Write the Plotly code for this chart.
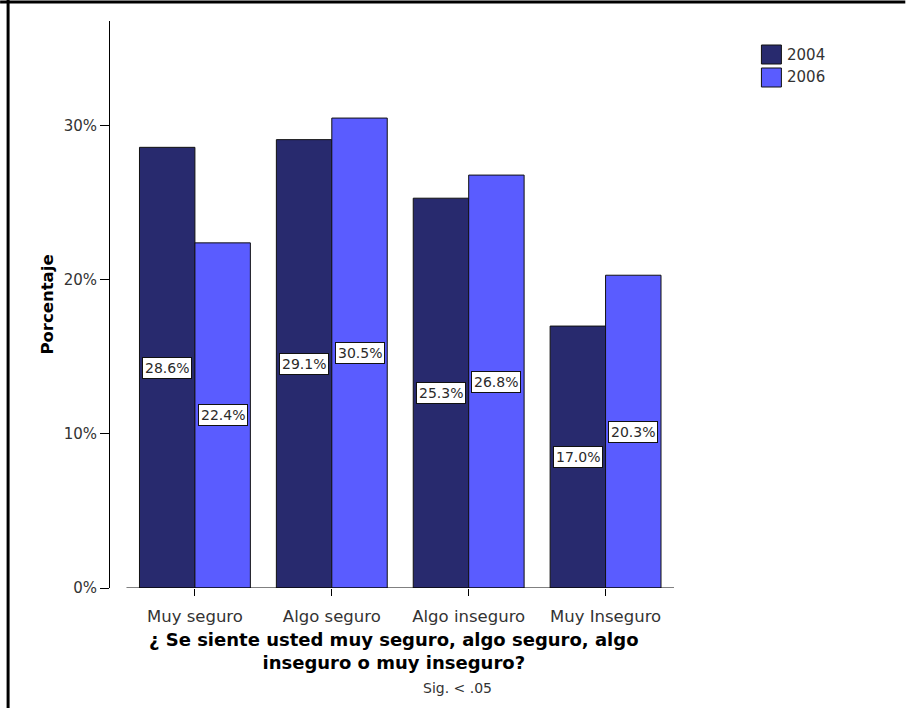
import plotly.graph_objects as go

categories = ["Muy seguro", "Algo seguro", "Algo inseguro", "Muy Inseguro"]
series_names = ["2004", "2006"]
values_2004 = [28.6, 29.1, 25.3, 17.0]
values_2006 = [22.4, 30.5, 26.8, 20.3]
y_tick_vals = [0, 10, 20, 30]
y_tick_text = ["0%", "10%", "20%", "30%"]
x_title_lines = ["¿ Se siente usted muy seguro, algo seguro, algo", "inseguro o muy inseguro?"]
note_text = "Sig. < .05"

colors = ["#282A6E", "#5A5CFF"]
series = [values_2004, values_2006]

# plot-area geometry in pixels
L, R, T, B = 110, 674.5, 21, 588
W, H = R - L, B - T
def px(x):
    return (x - L) / W
def py(y):
    return (B - y) / H

FONT = "DejaVu Sans"
TXT = "#333333"

fig = go.Figure()
for name, vals, col in zip(series_names, series, colors):
    fig.add_trace(go.Bar(
        x=categories, y=vals, name=name,
        marker=dict(color=col, line=dict(color="#111111", width=1)),
        showlegend=False, hoverinfo="x+y",
    ))

bargap = 0.19
bw = (1 - bargap) / 2
offsets = [-bw / 2, bw / 2]

annotations = []
for vals, off in zip(series, offsets):
    for i, v in enumerate(vals):
        annotations.append(dict(
            x=i + off, y=v / 2, xref="x", yref="y",
            text=f"{v:.1f}%", showarrow=False,
            font=dict(family=FONT, size=14, color="#2a2a2a"),
            bgcolor="white", bordercolor="#111111", borderwidth=1, borderpad=2,
        ))

# x title (two lines) and note
annotations.append(dict(x=px(394), y=py(651), xref="paper", yref="paper",
                        text="<b>" + x_title_lines[0] + "<br>" + x_title_lines[1] + "</b>",
                        showarrow=False, align="center",
                        font=dict(family=FONT, size=18, color="black"),
                        xanchor="center", yanchor="middle"))
annotations.append(dict(x=px(458), y=py(688), xref="paper", yref="paper",
                        text=note_text, showarrow=False,
                        font=dict(family=FONT, size=14, color=TXT),
                        xanchor="center", yanchor="middle"))

shapes = []
# custom legend
leg_y = [(45, 64), (68, 87)]
for (y0, y1), name, col in zip(leg_y, series_names, colors):
    shapes.append(dict(type="rect", xref="paper", yref="paper",
                       x0=px(762), x1=px(782), y0=py(y1), y1=py(y0),
                       fillcolor=col, line=dict(color="#111111", width=1)))
    annotations.append(dict(x=px(786), y=py((y0 + y1) / 2), xref="paper", yref="paper",
                            text=name, showarrow=False, xanchor="left", yanchor="middle",
                            font=dict(family=FONT, size=15, color=TXT)))

# x axis baseline
shapes.append(dict(type="line", xref="x", yref="y", x0=-0.5, x1=3.5, y0=0, y1=0,
                   line=dict(color="black", width=1)))
# outer frame (left and top)
shapes.append(dict(type="line", xref="paper", yref="paper", x0=px(8), x1=px(8),
                   y0=py(0), y1=py(708), line=dict(color="black", width=3)))
shapes.append(dict(type="line", xref="paper", yref="paper", x0=px(0), x1=px(906),
                   y0=py(2), y1=py(2), line=dict(color="black", width=3)))

fig.update_layout(
    width=906, height=708,
    margin=dict(l=L, r=906 - R, t=T, b=708 - B, autoexpand=False),
    paper_bgcolor="white", plot_bgcolor="white",
    barmode="group", bargap=bargap, bargroupgap=0,
    annotations=annotations, shapes=shapes,
    font=dict(family=FONT, color=TXT),
)
fig.update_xaxes(
    type="category", range=[-0.6204, 3.5], showline=False, showgrid=False, zeroline=False,
    ticks="outside", ticklen=7, tickcolor="black", tickwidth=1, ticklabelstandoff=6,
    tickfont=dict(family=FONT, size=16.5, color=TXT),
)
fig.update_yaxes(
    range=[0, 36.8], tickmode="array", tickvals=y_tick_vals, ticktext=y_tick_text,
    showline=True, linecolor="black", linewidth=1, showgrid=False, zeroline=False,
    ticks="outside", ticklen=9, tickcolor="black", tickwidth=1,
    tickfont=dict(family=FONT, size=15, color=TXT),
    title=dict(text="<b>Porcentaje</b>", font=dict(family=FONT, size=16.5, color="black"), standoff=5),
)

fig.write_html("out.html", config={"displayModeBar": False},
               post_script="document.body.style.margin='0';document.body.style.overflow='hidden';")
